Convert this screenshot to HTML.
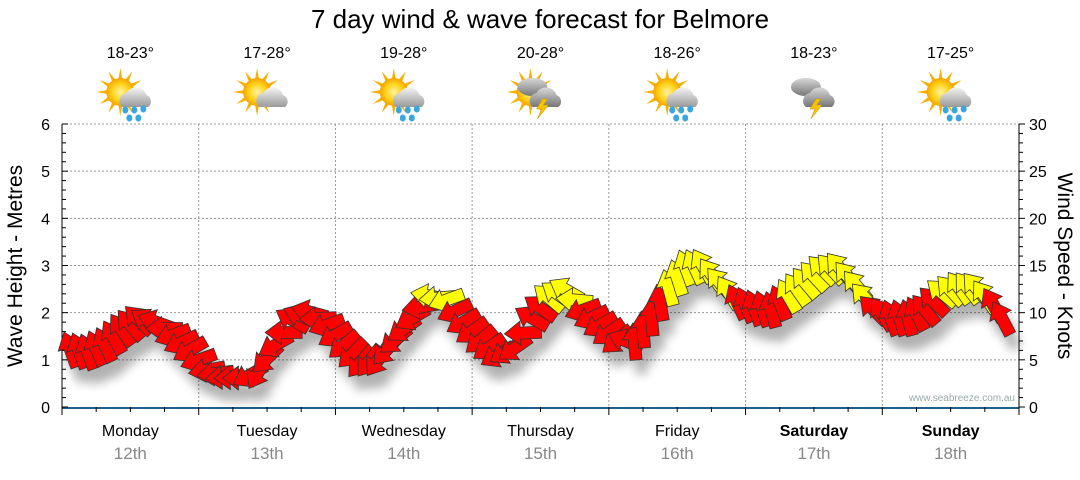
<!DOCTYPE html>
<html><head><meta charset="utf-8"><style>
body{margin:0;background:#fff;width:1080px;height:475px;overflow:hidden;font-family:"Liberation Sans",sans-serif}
</style></head><body>
<svg id="s" width="1080" height="475" xmlns="http://www.w3.org/2000/svg" font-family="Liberation Sans, sans-serif">
<defs>
<filter id="sh" x="-50%" y="-50%" width="200%" height="200%"><feGaussianBlur stdDeviation="5"/></filter>
<radialGradient id="sun" cx="0.5" cy="0.5" r="0.5"><stop offset="0" stop-color="#fff3a0"/><stop offset="0.6" stop-color="#ffd21a"/><stop offset="1" stop-color="#f5a400"/></radialGradient>
<linearGradient id="cl" x1="0" y1="0" x2="0" y2="1"><stop offset="0" stop-color="#f4f4f4"/><stop offset="1" stop-color="#9a9a9a"/></linearGradient>
<linearGradient id="dcl" x1="0" y1="0" x2="0" y2="1"><stop offset="0" stop-color="#d8d8d8"/><stop offset="1" stop-color="#777"/></linearGradient>
</defs>
<text x="540" y="28" font-size="26" text-anchor="middle">7 day wind &amp; wave forecast for Belmore</text>
<g id="grid" stroke="#999" stroke-dasharray="2,2" stroke-width="1"></g>
<g id="axes"></g>
<g id="icons"></g>
<g id="shadows" filter="url(#sh)" opacity="0.3"></g>
<g id="arrows" stroke="#333" stroke-width="0.8" stroke-linejoin="miter"></g>
<text x="1015" y="401" font-size="10" fill="#9aa" text-anchor="end">www.seabreeze.com.au</text>
<text transform="translate(22,266) rotate(-90)" font-size="21" text-anchor="middle">Wave Height - Metres</text>
<text transform="translate(1058,266) rotate(90)" font-size="21" text-anchor="middle">Wind Speed - Knots</text>
</svg>
<script>
const NS="http://www.w3.org/2000/svg";
function el(p,t,a,txt){const e=document.createElementNS(NS,t);for(const k in a)e.setAttribute(k,a[k]);if(txt!=null)e.textContent=txt;p.appendChild(e);return e;}
const X0=62,X1=1019,Y0=407,Y1=124,DW=(X1-X0)/7;
const grid=document.getElementById('grid'),ax=document.getElementById('axes');
for(let i=1;i<=6;i++){const y=Y0-i*(Y0-Y1)/6;el(grid,'line',{x1:X0,x2:X1,y1:y,y2:y});}
for(let d=1;d<7;d++){const x=X0+d*DW;el(grid,'line',{x1:x,x2:x,y1:Y1,y2:Y0});}
el(ax,'line',{x1:X0,x2:X0,y1:Y1,y2:Y0,stroke:'#000'});
el(ax,'line',{x1:X1,x2:X1,y1:Y1,y2:Y0,stroke:'#000'});
el(ax,'line',{x1:X0,x2:X1,y1:Y0+1,y2:Y0+1,stroke:'#1f5f8b','stroke-width':2});
for(let i=0;i<=30;i++){const y=Y0-i*(Y0-Y1)/30;
 el(ax,'line',{x1:X0,x2:X0+(i%5==0?6:4),y1:y,y2:y,stroke:'#000'});
 el(ax,'line',{x1:X1,x2:X1+(i%5==0?6:4),y1:y,y2:y,stroke:'#000'});
 if(i%5==0){el(ax,'text',{x:X1+10,y:y+6,'font-size':16},String(i));el(ax,'text',{x:50,y:y+6,'font-size':16,'text-anchor':'end'},String(i/5));}}
for(let i=0;i<=28;i++){const x=X0+i*DW/4;el(ax,'line',{x1:x,x2:x,y1:Y0,y2:Y0+(i%4==0?8:5),stroke:'#000'});}
const days=['Monday','Tuesday','Wednesday','Thursday','Friday','Saturday','Sunday'];
const dates=['12th','13th','14th','15th','16th','17th','18th'];
const temps=['18-23°','17-28°','19-28°','20-28°','18-26°','18-23°','17-25°'];
const types=['sr','sc','sr','st','sr','ct','sr'];
const ic=document.getElementById('icons');
days.forEach((d,i)=>{const cx=X0+(i+0.5)*DW;
 el(ax,'text',{x:cx,y:436,'font-size':16,'text-anchor':'middle','font-weight':i>=5?'bold':'normal'},d);
 el(ax,'text',{x:cx,y:459,'font-size':17,'text-anchor':'middle',fill:'#888'},dates[i]);
 el(ax,'text',{x:cx,y:58,'font-size':16,'text-anchor':'middle'},temps[i]);
 const g=el(ic,'g',{transform:`translate(${cx},97)`});const t=types[i];
 if(t[0]=='s'){for(let k=0;k<12;k++){const a=k*Math.PI/6;el(g,'polygon',{points:`${-10+Math.cos(a-0.15)*13},${-5+Math.sin(a-0.15)*13} ${-10+Math.cos(a)*24},${-5+Math.sin(a)*24} ${-10+Math.cos(a+0.15)*13},${-5+Math.sin(a+0.15)*13}`,fill:'#f5b000'});}
  el(g,'circle',{cx:-10,cy:-5,r:14,fill:'url(#sun)'});}
 if(t=='st'||t=='ct'){el(g,'ellipse',{cx:-8,cy:-10,rx:15,ry:9,fill:'url(#dcl)'});}
 el(g,'path',{d:'M-8,10 a8,8 0 0 1 4,-14 a11,11 0 0 1 20,2 a7,7 0 0 1 2,12 z',fill:t=='sc'||t=='sr'?'url(#cl)':'url(#dcl)'});
 if(t=='sr'){[[-5,13],[4,13],[13,12],[-1,21],[8,21]].forEach(p=>el(g,'ellipse',{cx:p[0],cy:p[1],rx:3,ry:3.5,fill:'#3aa6e0'}));}
 if(t=='st'||t=='ct'){el(g,'polygon',{points:'2,2 -4,12 1,12 -3,22 8,8 3,8 7,2',fill:'#f5c400',stroke:'#c88a00','stroke-width':0.5});}
});
const P=[[350,-20],[352,-20],[345,-25],[330,-35],[320,-45],[322,-70],[335,-110],[350,-120],
[370,-100],[377,-95],[378,-90],[372,-150],[345,-120],[320,-60],[312,-75],[325,-110],
[345,-130],[362,-140],[360,-145],[340,-130],[318,-120],[296,-80],[300,-110],[322,-120],
[340,-130],[355,-120],[348,-125],[318,-60],[298,-50],[290,-60],[310,-110],[325,-120],
[340,-130],[342,-5],[318,-5],[288,-15],[268,-20],[266,-30],[283,-40],[302,-25],
[308,-20],[310,-15],[296,-30],[283,-40],[270,-45],[268,-40],[286,-40],[310,-45],
[318,-20],[318,-15],[310,-40],[293,-50],[288,-35],[288,-40],[305,-30],[332,-25]];
const sh=document.getElementById('shadows'),ar=document.getElementById('arrows');
const shape='0,-19 12,-3 6,-3 6,18 -6,18 -6,-3 -12,-3';
const N=P.length,step=DW/8;
for(let i=0;i<N-1;i++){for(let k=0;k<2;k++){const f=k/2;
 const x=X0+(i+0.5+f)*step;const y=P[i][0]*(1-f)+P[i+1][0]*f;const a=P[i][1]*(1-f)+P[i+1][1]*f;
 const col=y<=300?'#ffff00':'#ff0000';
 el(sh,'polygon',{points:shape,fill:'#000',transform:`translate(${x+6},${y+14}) rotate(${a})`});
 el(ar,'polygon',{points:shape,fill:col,transform:`translate(${x},${y}) rotate(${a})`});}}
</script>
</body></html>
